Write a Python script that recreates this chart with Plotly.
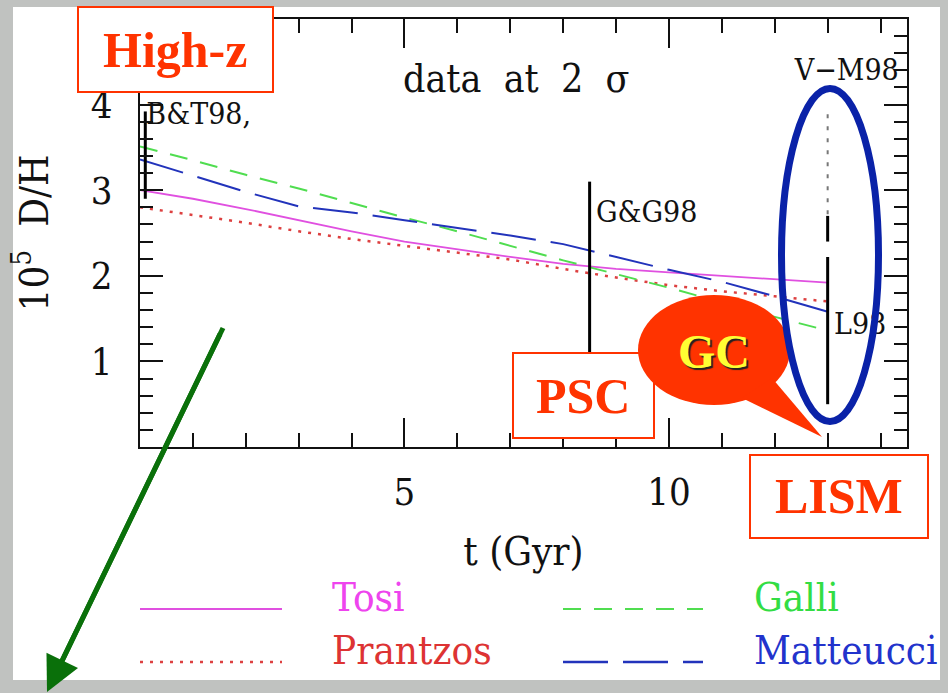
import plotly.graph_objects as go

# ---------------- data ----------------
t_gyr = [0, 1, 2, 3, 4, 5, 6, 7, 8, 9, 10, 11, 12, 13]
tosi = [3.00, 2.90, 2.78, 2.65, 2.52, 2.40, 2.31, 2.22, 2.14, 2.08, 2.04, 2.00, 1.96, 1.92]
prantzos = [2.80, 2.71, 2.62, 2.52, 2.43, 2.35, 2.27, 2.19, 2.08, 1.98, 1.89, 1.82, 1.76, 1.70]
galli = [3.51, 3.35, 3.18, 3.02, 2.85, 2.68, 2.52, 2.35, 2.18, 2.02, 1.86, 1.69, 1.52, 1.36]
matteucci = [3.36, 3.17, 2.98, 2.81, 2.74, 2.65, 2.56, 2.47, 2.37, 2.22, 2.07, 1.93, 1.76, 1.58]

bar_names = ["B&T98,", "G&G98", "L98"]
bar_t = [0.1, 8.5, 13.0]
bar_lo = [2.90, 1.10, 0.50]
bar_hi = [3.92, 3.10, 2.22]

vm_name = "V\u2212M98"
vm_t = 13.0
vm_lo, vm_hi = 2.72, 3.98
vm_seg_lo, vm_seg_hi = 2.40, 2.70

x_tickvals = [5, 10]
y_tickvals = [1, 2, 3, 4]

# ---------------- layout helpers ----------------
W, H = 948, 693
ML, MR, MT, MB = 140, 41, 19, 246
PW = W - ML - MR
PH = H - MT - MB


def px(x):
    return (x - ML) / PW


def py(y):
    return (H - MB - y) / PH


FONT = "DejaVu Serif Condensed, DejaVu Serif, serif"
BOLD = "Liberation Serif, Times New Roman, serif"
RED = "#ff3300"
C_TOSI = "#e050e0"
C_PRAN = "#dd4040"
C_GALLI = "#50dd50"
C_MATT = "#2233bb"

fig = go.Figure()

series = [
    ("Tosi", tosi, C_TOSI, "solid", 1.8),
    ("Prantzos", prantzos, C_PRAN, "3px,7px", 2.5),
    ("Galli", galli, C_GALLI, "18px,13px", 2),
    ("Matteucci", matteucci, C_MATT, "45px,15px", 2),
]
for name, vals, col, dash, w in series:
    fig.add_trace(go.Scatter(x=t_gyr, y=vals, mode="lines", name=name,
                             line=dict(color=col, dash=dash, width=w)))

# error bars
for name, tx, lo, hi in zip(bar_names, bar_t, bar_lo, bar_hi):
    fig.add_trace(go.Scatter(x=[tx, tx], y=[lo, hi], mode="lines",
                             line=dict(color="#000", width=3), name=name))
fig.add_trace(go.Scatter(x=[vm_t, vm_t], y=[vm_lo, vm_hi], mode="lines",
                         line=dict(color="#777", width=2, dash="4px,8px"), name=vm_name))
fig.add_trace(go.Scatter(x=[vm_t, vm_t], y=[vm_seg_lo, vm_seg_hi], mode="lines",
                         line=dict(color="#000", width=3), name=vm_name))

# labels of the measurements (as text trace, drawn below overlay shapes)
lab_x = [0.12, 8.62, 13.12]
lab_y = [3.86, 2.72, 1.41]
fig.add_trace(go.Scatter(x=lab_x, y=lab_y, mode="text", text=bar_names,
                         textposition="middle right",
                         textfont=dict(family=FONT, size=30, color="#111")))
fig.add_trace(go.Scatter(x=[13.36], y=[4.38], mode="text", text=[vm_name],
                         textposition="middle center",
                         textfont=dict(family=FONT, size=30, color="#111")))

shapes = []
# white panel
shapes.append(dict(type="rect", xref="paper", yref="paper", layer="below",
                   x0=px(13), x1=px(940), y0=py(680), y1=py(7),
                   fillcolor="white", line=dict(width=0)))

# boxes
for (x0, y0, x1, y1) in [(78, 7, 273, 92), (513, 353, 654, 438), (750, 455, 928, 538)]:
    shapes.append(dict(type="rect", xref="paper", yref="paper", layer="above",
                       x0=px(x0), x1=px(x1), y0=py(y1), y1=py(y0),
                       fillcolor="white", line=dict(color=RED, width=2)))

# GC speech bubble
shapes.append(dict(type="circle", xref="paper", yref="paper", layer="above",
                   x0=px(638), x1=px(790), y0=py(405), y1=py(295),
                   fillcolor=RED, line=dict(width=0)))
tri = [(772, 378), (742, 398), (822, 437)]
path = "M {} {} L {} {} L {} {} Z".format(*[v for p in tri for v in (px(p[0]), py(p[1]))])
shapes.append(dict(type="path", xref="paper", yref="paper", layer="above",
                   path=path, fillcolor=RED, line=dict(width=0)))

# blue ellipse
shapes.append(dict(type="circle", xref="paper", yref="paper", layer="above",
                   x0=px(781.5), x1=px(878.5), y0=py(421.5), y1=py(88.5),
                   line=dict(color="#0a22a8", width=7)))

# green arrow shaft
shapes.append(dict(type="line", xref="paper", yref="paper", layer="above",
                   x0=px(223), y0=py(328), x1=px(60), y1=py(665),
                   line=dict(color="#0a700a", width=5)))

# legend samples
leg = [
    (140, 282, 609, C_TOSI, "solid", 2),
    (140, 282, 662, C_PRAN, "3px,7px", 2.5),
    (563, 703, 609, C_GALLI, "18px,13px", 2),
    (563, 703, 662, C_MATT, "45px,15px", 2.5),
]
for x0, x1, yy, col, dash, w in leg:
    shapes.append(dict(type="line", xref="paper", yref="paper", layer="above",
                       x0=px(x0), x1=px(x1), y0=py(yy), y1=py(yy),
                       line=dict(color=col, dash=dash, width=w)))

annotations = []


def ann(text, x, y, font, xanchor="center", yanchor="middle"):
    annotations.append(dict(text=text, x=px(x), y=py(y), xref="paper", yref="paper",
                            showarrow=False, xanchor=xanchor, yanchor=yanchor, font=font))


NB = "\u00a0"
ann("data" + NB * 2 + "at" + NB * 2 + "2" + NB * 2 + "\u03c3", 516, 78,
    dict(family=FONT, size=39, color="#111"))
ann("<b>High-z</b>", 175, 50, dict(family=BOLD, size=50, color=RED))
ann("<b>PSC</b>", 583, 396, dict(family=BOLD, size=50, color=RED))
ann("<b>LISM</b>", 839, 496, dict(family=BOLD, size=50, color=RED))
ann("<b>GC</b>", 714, 351, dict(family=BOLD, size=48, color="#ffff33",
                                  shadow="2px 2px 1px #222"))

ann("Tosi", 330, 597, dict(family=FONT, size=40, color="#ee44ee"), xanchor="left")
ann("Prantzos", 330, 650, dict(family=FONT, size=40, color="#dd3333"), xanchor="left")
ann("Galli", 752, 597, dict(family=FONT, size=40, color="#33dd44"), xanchor="left")
ann("Matteucci", 752, 650, dict(family=FONT, size=40, color="#2233cc"), xanchor="left")

# green arrow head
annotations.append(dict(text=" ", x=px(47), y=py(692), xref="paper", yref="paper",
                        showarrow=True, ax=223 - 47, ay=328 - 692, axref="pixel", ayref="pixel",
                        arrowhead=2, arrowsize=1.4, arrowwidth=5, arrowcolor="#0a700a",
                        standoff=0, font=dict(size=10)))

axis_common = dict(ticks="inside", tickwidth=2, tickcolor="#111", showline=True,
                   linecolor="#111", linewidth=2, mirror="ticks", showgrid=False,
                   zeroline=False, tickmode="array")

fig.update_layout(
    width=W, height=H,
    margin=dict(l=ML, r=MR, t=MT, b=MB, pad=0),
    paper_bgcolor="#c0c2c0",
    plot_bgcolor="white",
    showlegend=False,
    shapes=shapes,
    annotations=annotations,
    xaxis=dict(axis_common, range=[0, 14.5], tickvals=x_tickvals,
               ticktext=[str(v) for v in x_tickvals], ticklen=29,
               minor=dict(tickmode="linear", tick0=0, dtick=1, ticks="inside",
                          ticklen=14, tickwidth=2, tickcolor="#111", showgrid=False),
               tickfont=dict(family=FONT, size=38, color="#111"),
               ticklabelstandoff=10,
               title=dict(text="t (Gyr)", font=dict(family=FONT, size=40, color="#111"),
                          standoff=24)),
    yaxis=dict(axis_common, range=[0, 5], tickvals=y_tickvals,
               ticktext=[str(v) for v in y_tickvals], ticklen=23,
               minor=dict(tickmode="linear", tick0=0, dtick=0.2, ticks="inside",
                          ticklen=13, tickwidth=2, tickcolor="#111", showgrid=False),
               tickfont=dict(family=FONT, size=38, color="#111"),
               ticklabelstandoff=18,
               title=dict(text="10<sup>5</sup>" + NB * 2 + "D/H",
                          font=dict(family=FONT, size=40, color="#111"),
                          standoff=30)),
)

fig.write_html("out.html")
